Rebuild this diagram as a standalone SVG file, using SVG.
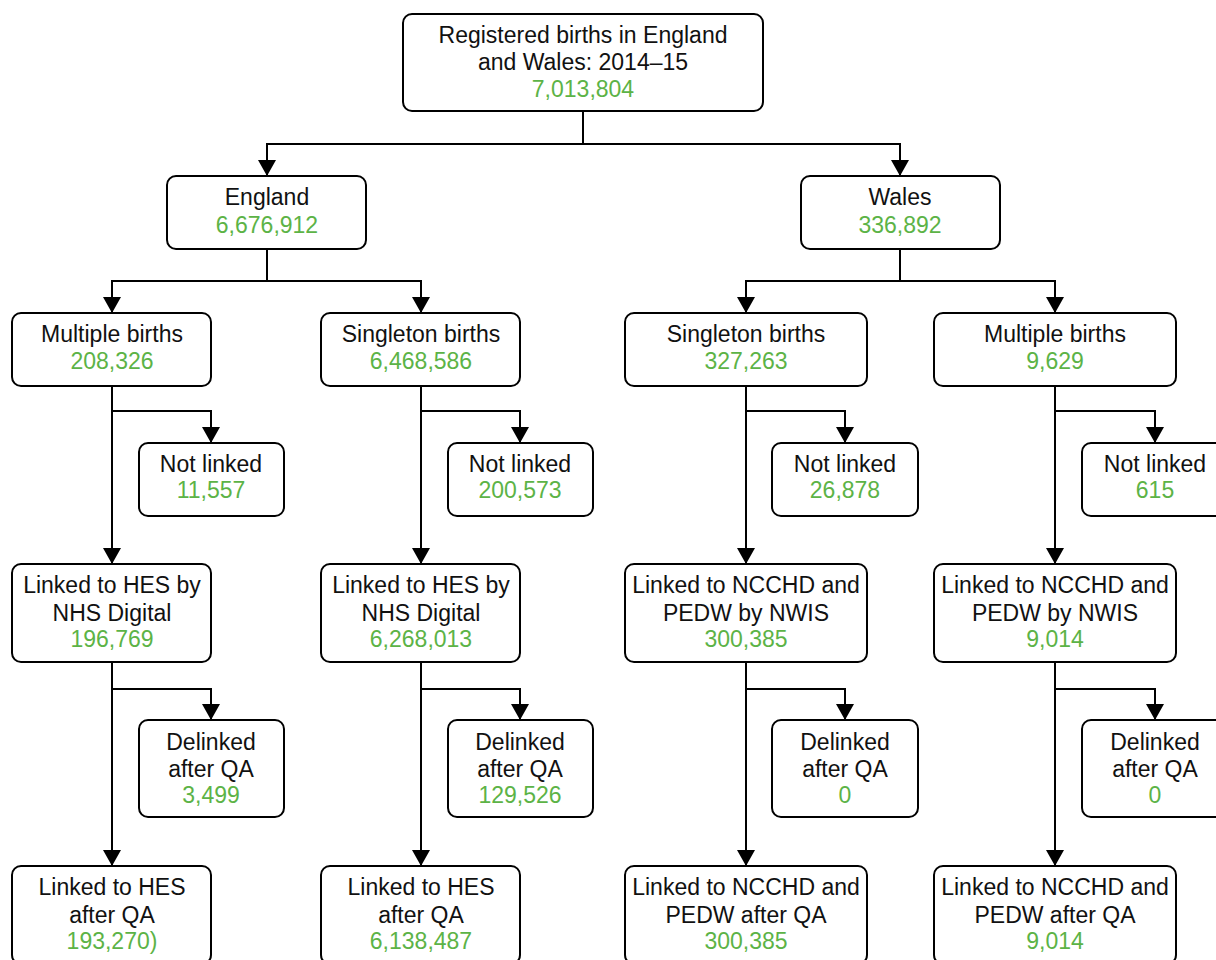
<svg xmlns="http://www.w3.org/2000/svg" width="1216" height="960" viewBox="0 0 1216 960">
<style>
.box{fill:#fff;stroke:#000;stroke-width:2}
.t{font-family:"Liberation Sans",Arial,sans-serif;font-size:23px;fill:#111;text-anchor:middle}
.n{fill:#5cb346}
.c{fill:none;stroke:#000;stroke-width:2}
</style>
<defs>
<marker id="ah" markerUnits="userSpaceOnUse" viewBox="0 0 16 18" refX="16" refY="9" markerWidth="16" markerHeight="18" orient="auto">
<path d="M0,0 L16,9 L0,18 z" fill="#000"/>
</marker>
</defs>
<rect width="1216" height="960" fill="#fff"/>
<g id="connectors">
<path class="c" d="M583,111 V144"/>
<path class="c" d="M583,144 H267 V176" marker-end="url(#ah)"/>
<path class="c" d="M583,144 H900 V176" marker-end="url(#ah)"/>
<path class="c" d="M267,249 V281"/>
<path class="c" d="M267,281 H112 V313" marker-end="url(#ah)"/>
<path class="c" d="M267,281 H421 V313" marker-end="url(#ah)"/>
<path class="c" d="M900,249 V281"/>
<path class="c" d="M900,281 H746 V313" marker-end="url(#ah)"/>
<path class="c" d="M900,281 H1055 V313" marker-end="url(#ah)"/>
<path class="c" d="M112,386 V564" marker-end="url(#ah)"/>
<path class="c" d="M112,411 H211 V443" marker-end="url(#ah)"/>
<path class="c" d="M421,386 V564" marker-end="url(#ah)"/>
<path class="c" d="M421,411 H520 V443" marker-end="url(#ah)"/>
<path class="c" d="M746,386 V564" marker-end="url(#ah)"/>
<path class="c" d="M746,411 H845 V443" marker-end="url(#ah)"/>
<path class="c" d="M1055,386 V564" marker-end="url(#ah)"/>
<path class="c" d="M1055,411 H1155 V443" marker-end="url(#ah)"/>
<path class="c" d="M112,662 V866" marker-end="url(#ah)"/>
<path class="c" d="M112,689 H211 V720" marker-end="url(#ah)"/>
<path class="c" d="M421,662 V866" marker-end="url(#ah)"/>
<path class="c" d="M421,689 H520 V720" marker-end="url(#ah)"/>
<path class="c" d="M746,662 V866" marker-end="url(#ah)"/>
<path class="c" d="M746,689 H845 V720" marker-end="url(#ah)"/>
<path class="c" d="M1055,662 V866" marker-end="url(#ah)"/>
<path class="c" d="M1055,689 H1155 V720" marker-end="url(#ah)"/>
</g>
<g id="root"><rect class="box" x="403" y="14" width="360" height="97" rx="9"/>
<text class="t" x="583" y="43">Registered births in England</text>
<text class="t" x="583" y="70">and Wales: 2014–15</text>
<text class="t n" x="583" y="97">7,013,804</text></g>
<g id="england"><rect class="box" x="167" y="176" width="199" height="73" rx="9"/>
<text class="t" x="267" y="205">England</text>
<text class="t n" x="267" y="233">6,676,912</text></g>
<g id="wales"><rect class="box" x="801" y="176" width="199" height="73" rx="9"/>
<text class="t" x="900" y="205">Wales</text>
<text class="t n" x="900" y="233">336,892</text></g>
<g id="eng-multiple"><rect class="box" x="12" y="313" width="199" height="73" rx="9"/>
<text class="t" x="112" y="342">Multiple births</text>
<text class="t n" x="112" y="369">208,326</text></g>
<g id="eng-singleton"><rect class="box" x="321" y="313" width="199" height="73" rx="9"/>
<text class="t" x="421" y="342">Singleton births</text>
<text class="t n" x="421" y="369">6,468,586</text></g>
<g id="wal-singleton"><rect class="box" x="625" y="313" width="242" height="73" rx="9"/>
<text class="t" x="746" y="342">Singleton births</text>
<text class="t n" x="746" y="369">327,263</text></g>
<g id="wal-multiple"><rect class="box" x="934" y="313" width="242" height="73" rx="9"/>
<text class="t" x="1055" y="342">Multiple births</text>
<text class="t n" x="1055" y="369">9,629</text></g>
<g id="eng-mult-notlinked"><rect class="box" x="139" y="443" width="145" height="73" rx="9"/>
<text class="t" x="211" y="472">Not linked</text>
<text class="t n" x="211" y="498">11,557</text></g>
<g id="eng-sing-notlinked"><rect class="box" x="448" y="443" width="145" height="73" rx="9"/>
<text class="t" x="520" y="472">Not linked</text>
<text class="t n" x="520" y="498">200,573</text></g>
<g id="wal-sing-notlinked"><rect class="box" x="772" y="443" width="146" height="73" rx="9"/>
<text class="t" x="845" y="472">Not linked</text>
<text class="t n" x="845" y="498">26,878</text></g>
<g id="wal-mult-notlinked"><rect class="box" x="1082" y="443" width="146" height="73" rx="9"/>
<text class="t" x="1155" y="472">Not linked</text>
<text class="t n" x="1155" y="498">615</text></g>
<g id="eng-mult-linked"><rect class="box" x="12" y="564" width="199" height="98" rx="9"/>
<text class="t" x="112" y="593">Linked to HES by</text>
<text class="t" x="112" y="621">NHS Digital</text>
<text class="t n" x="112" y="647">196,769</text></g>
<g id="eng-sing-linked"><rect class="box" x="321" y="564" width="199" height="98" rx="9"/>
<text class="t" x="421" y="593">Linked to HES by</text>
<text class="t" x="421" y="621">NHS Digital</text>
<text class="t n" x="421" y="647">6,268,013</text></g>
<g id="wal-sing-linked"><rect class="box" x="625" y="564" width="242" height="98" rx="9"/>
<text class="t" x="746" y="593">Linked to NCCHD and</text>
<text class="t" x="746" y="621">PEDW by NWIS</text>
<text class="t n" x="746" y="647">300,385</text></g>
<g id="wal-mult-linked"><rect class="box" x="934" y="564" width="242" height="98" rx="9"/>
<text class="t" x="1055" y="593">Linked to NCCHD and</text>
<text class="t" x="1055" y="621">PEDW by NWIS</text>
<text class="t n" x="1055" y="647">9,014</text></g>
<g id="eng-mult-delinked"><rect class="box" x="139" y="720" width="145" height="97" rx="9"/>
<text class="t" x="211" y="750">Delinked</text>
<text class="t" x="211" y="777">after QA</text>
<text class="t n" x="211" y="803">3,499</text></g>
<g id="eng-sing-delinked"><rect class="box" x="448" y="720" width="145" height="97" rx="9"/>
<text class="t" x="520" y="750">Delinked</text>
<text class="t" x="520" y="777">after QA</text>
<text class="t n" x="520" y="803">129,526</text></g>
<g id="wal-sing-delinked"><rect class="box" x="772" y="720" width="146" height="97" rx="9"/>
<text class="t" x="845" y="750">Delinked</text>
<text class="t" x="845" y="777">after QA</text>
<text class="t n" x="845" y="803">0</text></g>
<g id="wal-mult-delinked"><rect class="box" x="1082" y="720" width="146" height="97" rx="9"/>
<text class="t" x="1155" y="750">Delinked</text>
<text class="t" x="1155" y="777">after QA</text>
<text class="t n" x="1155" y="803">0</text></g>
<g id="eng-mult-final"><rect class="box" x="12" y="866" width="199" height="98" rx="9"/>
<text class="t" x="112" y="895">Linked to HES</text>
<text class="t" x="112" y="923">after QA</text>
<text class="t n" x="112" y="949">193,270)</text></g>
<g id="eng-sing-final"><rect class="box" x="321" y="866" width="199" height="98" rx="9"/>
<text class="t" x="421" y="895">Linked to HES</text>
<text class="t" x="421" y="923">after QA</text>
<text class="t n" x="421" y="949">6,138,487</text></g>
<g id="wal-sing-final"><rect class="box" x="625" y="866" width="242" height="98" rx="9"/>
<text class="t" x="746" y="895">Linked to NCCHD and</text>
<text class="t" x="746" y="923">PEDW after QA</text>
<text class="t n" x="746" y="949">300,385</text></g>
<g id="wal-mult-final"><rect class="box" x="934" y="866" width="242" height="98" rx="9"/>
<text class="t" x="1055" y="895">Linked to NCCHD and</text>
<text class="t" x="1055" y="923">PEDW after QA</text>
<text class="t n" x="1055" y="949">9,014</text></g>
</svg>
